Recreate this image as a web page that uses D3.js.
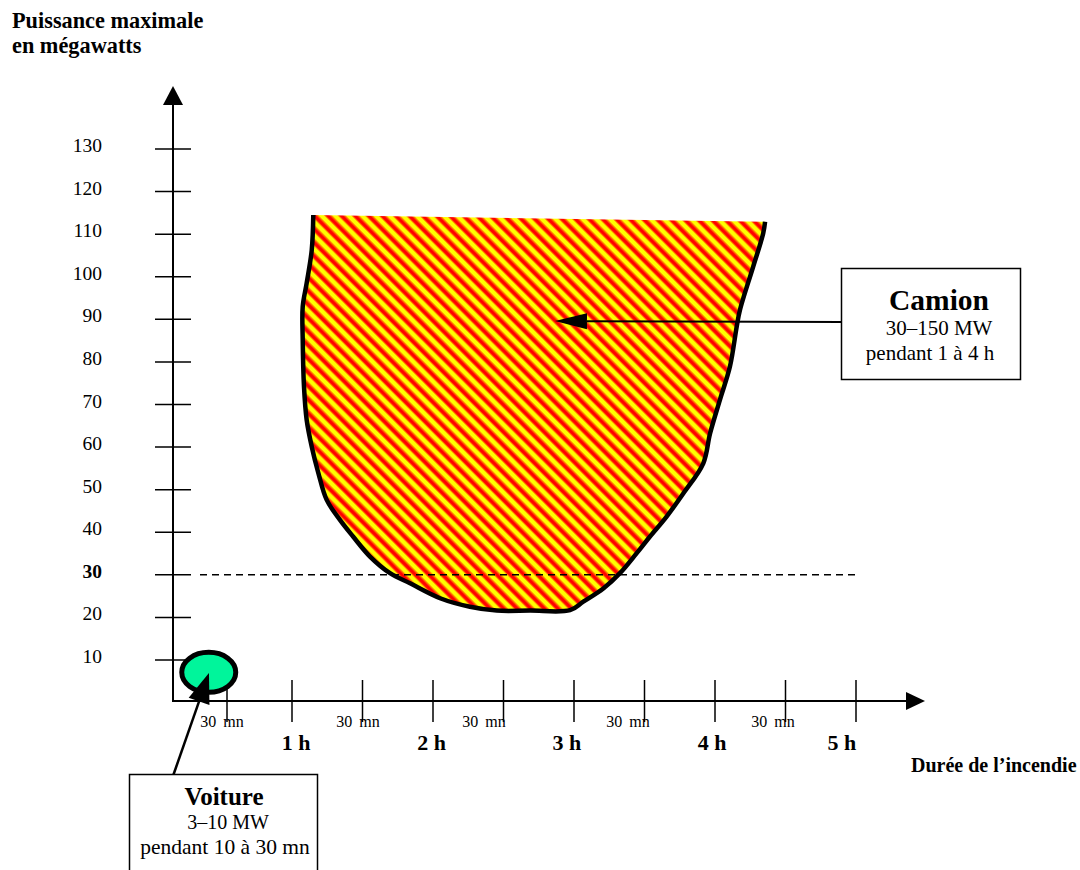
<!DOCTYPE html>
<html><head><meta charset="utf-8">
<script src="https://cdn.jsdelivr.net/npm/d3@7/dist/d3.min.js"></script>
<style>
body{margin:0;background:#fff}
svg text{font-family:"Liberation Serif","Times New Roman",serif;fill:#000}
</style>
</head><body>
<svg id="chart" width="1080" height="870"></svg>
<script>
// ---------------- data ----------------
const yTickValues = [10, 20, 30, 40, 50, 60, 70, 80, 90, 100, 110, 120, 130];
const yTickLabels = ["10", "20", "30", "40", "50", "60", "70", "80", "90", "100", "110", "120", "130"];
const yBoldLabel = 30;
const xTickValues = [0.5, 1, 1.5, 2, 2.5, 3, 3.5, 4, 4.5, 5];           // hours
const hourLabels = ["1 h", "2 h", "3 h", "4 h", "5 h"];
const hourLabelPos = [1.03, 1.99, 2.95, 3.98, 4.90];
const halfHourLabel = "30 mn";
const halfHourLabelPos = [0.454, 1.468, 2.362, 3.383, 4.411];
const thresholdMW = 30;
const thresholdRange = [0.25, 5];
// Camion fire envelope (hours, MW)
const camionOutline = [
  [1.151,114.5],[1.140,106.3],[1.104,98.5],[1.076,93.0],[1.076,85.2],[1.085,74.2],
  [1.104,66.4],[1.140,60.1],[1.187,53.9],[1.246,47.6],[1.340,42.9],[1.433,39.0],
  [1.553,34.3],[1.695,30.4],[1.837,28.0],[2.050,24.5],[2.262,22.5],[2.452,21.6],
  [2.688,21.6],[2.972,21.7],[3.066,23.7],[3.208,26.8],[3.326,30.4],[3.445,35.1],
  [3.539,39.0],[3.657,43.7],[3.775,49.1],[3.917,56.2],[3.965,63.2],[4.035,71.1],
  [4.106,78.9],[4.154,88.3],[4.177,92.2],[4.271,102.4],[4.342,110.2],[4.355,112.9]
];
const voitureCenter = [0.331, 7.1];
const camionArrowTip = [2.865, 89.6];
const voitureArrowTip = [0.333, 6.95];
const titleY = ["Puissance maximale", "en mégawatts"];
const titleX = "Durée de l’incendie";
const camionText = ["Camion", "30–150 MW", "pendant 1 à 4 h"];
const voitureText = ["Voiture", "3–10 MW", "pendant 10 à 30 mn"];

// ---------------- scales ----------------
const svg = d3.select("#chart");
const x = d3.scaleLinear().domain([0, 0.5, 1, 5]).range([173, 227, 292, 856]);
const y = d3.scaleLinear().domain([0, 130]).range([702.6, 149]);
const axisX0 = 173, axisY0 = 701;

// hatch pattern
const defs = svg.append("defs");
const pat = defs.append("pattern").attr("id", "hatch")
  .attr("patternUnits", "userSpaceOnUse").attr("width", 9.6).attr("height", 9.6)
  .attr("patternTransform", "rotate(-45)");
pat.append("rect").attr("width", 9.6).attr("height", 9.6).attr("fill", "#ffff00");
pat.append("rect").attr("x", 0).attr("width", 1).attr("height", 9.6).attr("fill", "#ff8000");
pat.append("rect").attr("x", 1).attr("width", 3.6).attr("height", 9.6).attr("fill", "#ff0000");
pat.append("rect").attr("x", 4.6).attr("width", 1).attr("height", 9.6).attr("fill", "#ff8000");

// ---------------- titles ----------------
svg.append("text").attr("x", 12).attr("y", 28).attr("font-size", 22.3).attr("font-weight", "bold").text(titleY[0]);
svg.append("text").attr("x", 12).attr("y", 53).attr("font-size", 22.3).attr("font-weight", "bold").text(titleY[1]);
svg.append("text").attr("x", 911).attr("y", 772).attr("font-size", 20).attr("font-weight", "bold").text(titleX);

// ---------------- camion area ----------------
const line = d3.line().x(d => x(d[0])).y(d => y(d[1])).curve(d3.curveCatmullRom.alpha(0.5));
svg.append("path").attr("d", line(camionOutline) + "Z").attr("fill", "url(#hatch)").attr("stroke", "none");
svg.append("path").attr("d", line(camionOutline)).attr("fill", "none").attr("stroke", "#000")
  .attr("stroke-width", 4.5).attr("stroke-linejoin", "round").attr("stroke-linecap", "butt");

// threshold dashed line
svg.append("line").attr("x1", x(thresholdRange[0])).attr("x2", x(thresholdRange[1]))
  .attr("y1", y(thresholdMW)).attr("y2", y(thresholdMW))
  .attr("stroke", "#000").attr("stroke-width", 1.5).attr("stroke-dasharray", "7,5");

// ---------------- axes ----------------
svg.append("line").attr("x1", axisX0).attr("x2", axisX0).attr("y1", axisY0).attr("y2", 104)
  .attr("stroke", "#000").attr("stroke-width", 2);
svg.append("path").attr("d", `M${axisX0},86L${axisX0 - 10},105L${axisX0 + 10},105Z`).attr("fill", "#000");
svg.append("line").attr("x1", axisX0 - 1).attr("x2", 907).attr("y1", axisY0).attr("y2", axisY0)
  .attr("stroke", "#000").attr("stroke-width", 2);
svg.append("path").attr("d", `M925,${axisY0}L906,${axisY0 - 9}L906,${axisY0 + 9}Z`).attr("fill", "#000");

svg.selectAll(".ytick").data(yTickValues).join("line").attr("class", "ytick")
  .attr("x1", 155).attr("x2", 191).attr("y1", d => y(d)).attr("y2", d => y(d))
  .attr("stroke", "#000").attr("stroke-width", 1.5);
svg.selectAll(".ylab").data(yTickValues).join("text").attr("class", "ylab")
  .attr("x", 102).attr("y", d => y(d) + 3).attr("text-anchor", "end").attr("font-size", 19.5)
  .attr("font-weight", d => d === yBoldLabel ? "bold" : "normal")
  .text((d, i) => yTickLabels[i]);

svg.selectAll(".xtick").data(xTickValues).join("line").attr("class", "xtick")
  .attr("x1", d => x(d)).attr("x2", d => x(d)).attr("y1", 680).attr("y2", 722)
  .attr("stroke", "#000").attr("stroke-width", 1.5);
svg.selectAll(".hlab").data(hourLabels).join("text").attr("class", "hlab")
  .attr("x", (d, i) => x(hourLabelPos[i])).attr("y", 750).attr("text-anchor", "middle")
  .attr("font-size", 22).attr("font-weight", "bold").text(d => d);
svg.selectAll(".mlab").data(halfHourLabelPos).join("text").attr("class", "mlab")
  .attr("x", d => x(d)).attr("y", 727).attr("text-anchor", "middle")
  .attr("font-size", 16).attr("word-spacing", 3).text(halfHourLabel);

// ---------------- voiture ----------------
svg.append("ellipse").attr("cx", x(voitureCenter[0])).attr("cy", y(voitureCenter[1]))
  .attr("rx", 27).attr("ry", 20).attr("fill", "#00f59b").attr("stroke", "#000").attr("stroke-width", 5);

function arrow(x1, y1, x2, y2, len, half, w) {
  const a = Math.atan2(y2 - y1, x2 - x1);
  const bx = x2 - len * Math.cos(a), by = y2 - len * Math.sin(a);
  svg.append("line").attr("x1", x1).attr("y1", y1).attr("x2", bx).attr("y2", by)
    .attr("stroke", "#000").attr("stroke-width", w);
  const px = -Math.sin(a) * half, py = Math.cos(a) * half;
  svg.append("path").attr("d", `M${x2},${y2}L${bx + px},${by + py}L${bx - px},${by - py}Z`).attr("fill", "#000");
}
arrow(841, 322, x(camionArrowTip[0]), y(camionArrowTip[1]), 32, 8, 2);
arrow(173, 776, x(voitureArrowTip[0]), y(voitureArrowTip[1]), 30, 11, 2.5);

// ---------------- boxes ----------------
svg.append("rect").attr("x", 841.5).attr("y", 268.5).attr("width", 179).attr("height", 111)
  .attr("fill", "#fff").attr("stroke", "#000").attr("stroke-width", 1.5);
svg.append("text").attr("x", 939).attr("y", 310).attr("text-anchor", "middle").attr("font-size", 29.5).attr("font-weight", "bold").text(camionText[0]);
svg.append("text").attr("x", 939).attr("y", 335).attr("text-anchor", "middle").attr("font-size", 21).text(camionText[1]);
svg.append("text").attr("x", 930).attr("y", 360).attr("text-anchor", "middle").attr("font-size", 21).text(camionText[2]);

svg.append("rect").attr("x", 129.5).attr("y", 774.5).attr("width", 188).attr("height", 110)
  .attr("fill", "#fff").attr("stroke", "#000").attr("stroke-width", 1.5);
svg.append("text").attr("x", 224).attr("y", 805).attr("text-anchor", "middle").attr("font-size", 25).attr("font-weight", "bold").text(voitureText[0]);
svg.append("text").attr("x", 228).attr("y", 829).attr("text-anchor", "middle").attr("font-size", 20).text(voitureText[1]);
svg.append("text").attr("x", 225).attr("y", 854).attr("text-anchor", "middle").attr("font-size", 21.5).text(voitureText[2]);
</script>
</body></html>
